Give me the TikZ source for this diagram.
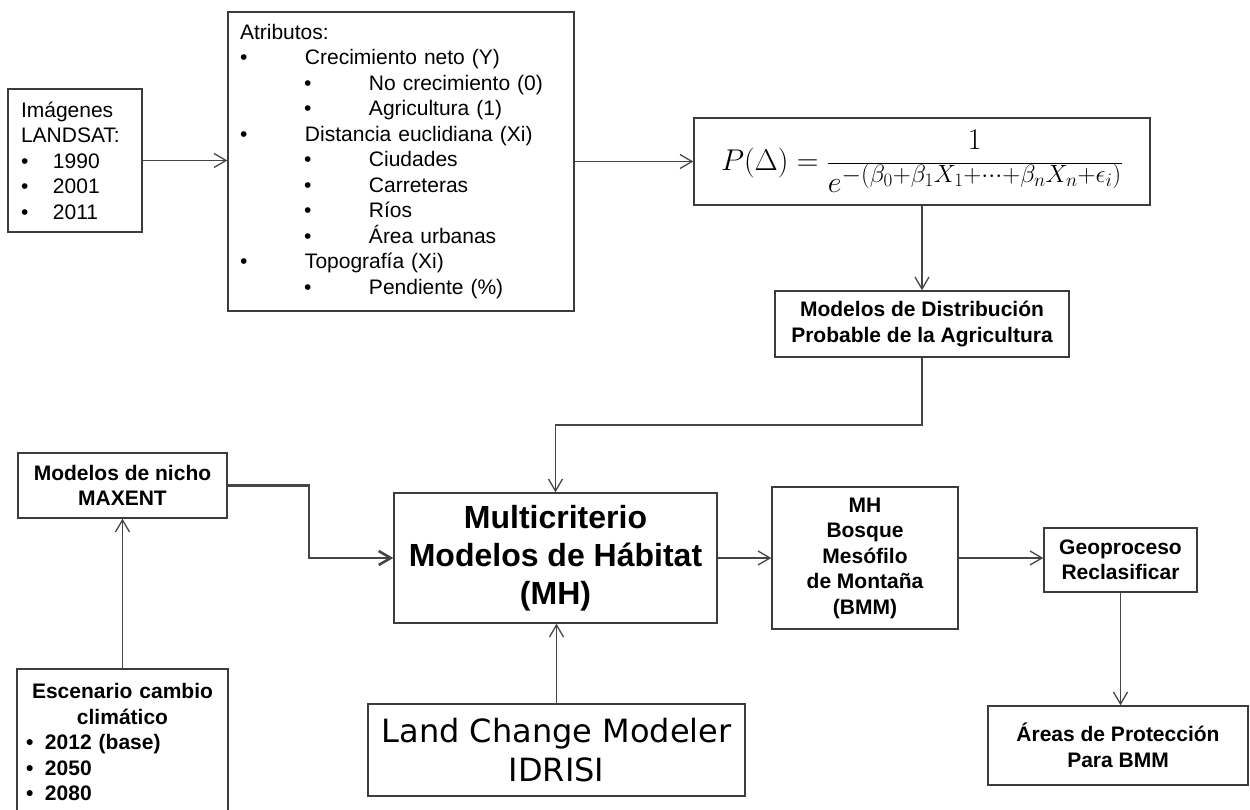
\RequirePackage{fix-cm}
\documentclass[tikz,border=0pt]{standalone}
\usepackage[no-math]{fontspec}
\setmainfont{Liberation Sans}
\newfontfamily\lcmfont{DejaVu Sans}
\usetikzlibrary{arrows.meta}

\DeclareMathSizes{30}{30}{25}{19}

\definecolor{boxline}{HTML}{3C3C3C}
\definecolor{linkline}{HTML}{454545}

\newcommand\bulletone[1]{\makebox[65pt][l]{\textbullet}#1}
\newcommand\bullettwo[1]{\hspace*{64pt}\makebox[65pt][l]{\textbullet}#1}

\tikzset{
    box/.style={draw=boxline, line width=1.4pt, inner sep=0pt, align=center,
        font=\fontsize{21}{25.5}\selectfont\bfseries},
    listbox/.style={box, align=left, font=\fontsize{21}{25.5}\selectfont},
    link/.style={draw=linkline, line width=1.3pt, -{Straight Barb[length=12pt,width=14pt]}},
    heavylink/.style={link, line width=2.6pt},
}

\begin{document}
\begin{tikzpicture}[x=1pt, y=-1pt]
        \useasboundingbox (0,0) rectangle (1250,810);
        \node (imagenes) [listbox, text width=108pt, inner xsep=13pt, minimum height=143pt] at (75,160.5)
            {Imágenes\\LANDSAT:\\\makebox[32pt][l]{\textbullet}1990\\\makebox[32pt][l]{\textbullet}2001\\\makebox[32pt][l]{\textbullet}2011};
        \node (atributos) [listbox, text width=322pt, inner xsep=12pt, minimum height=299pt] at (401,161.5)
            {Atributos:\\
             \bulletone{Crecimiento neto (Y)}\\
             \bullettwo{No crecimiento (0)}\\
             \bullettwo{Agricultura (1)}\\
             \bulletone{Distancia euclidiana (Xi)}\\
             \bullettwo{Ciudades}\\
             \bullettwo{Carreteras}\\
             \bullettwo{Ríos}\\
             \bullettwo{Área urbanas}\\
             \bulletone{Topografía (Xi)}\\
             \bullettwo{Pendiente (\%)}};
        \node (formula) [box, minimum width=456pt, minimum height=87pt, font=\fontsize{30}{34}\selectfont] at (922,161.5)
            {$\displaystyle P(\Delta)=\frac{1}{e^{-(\beta_0+\beta_1X_1+\cdots+\beta_nX_n+\epsilon_i)}}$};
        \node (distrib) [box, minimum width=294pt, minimum height=66pt] at (922,324)
            {Modelos de Distribución\\Probable de la Agricultura};
        \node (mh) [box, minimum width=323pt, minimum height=130pt, font=\fontsize{32}{38}\selectfont\bfseries] at (555.5,558)
            {Multicriterio\\Modelos de Hábitat\\(MH)};
        \node (maxent) [box, minimum width=209pt, minimum height=65pt] at (122.5,485.5)
            {Modelos de nicho\\MAXENT};
        \node (escenario) [listbox, font=\fontsize{21}{25.5}\selectfont\bfseries, text width=193pt, inner xsep=9pt, minimum height=146pt] at (122.5,742)
            {\makebox[\linewidth]{Escenario cambio}\\\makebox[\linewidth]{climático}\\
             \makebox[19pt][l]{\textbullet}2012 (base)\\\makebox[19pt][l]{\textbullet}2050\\\makebox[19pt][l]{\textbullet}2080};
        \node (lcm) [box, minimum width=377pt, minimum height=92pt, font=\fontsize{32}{39}\selectfont\lcmfont] at (556.5,750)
            {Land Change Modeler\\IDRISI};
        \node (bmm) [box, minimum width=186pt, minimum height=142pt] at (865,558)
            {MH\\Bosque\\Mesófilo\\de Montaña\\(BMM)};
        \node (geo) [box, minimum width=153pt, minimum height=64pt] at (1120.5,560)
            {Geoproceso\\Reclasificar};
        \node (areas) [box, minimum width=260pt, minimum height=79pt] at (1118,745.5)
            {Áreas de Protección\\Para BMM};
        \coordinate (join) at (555.5,425);
        \coordinate (elbow) at (309,520);
        \draw [link] (imagenes.east) -- (imagenes.east -| atributos.west);
        \draw [link] (atributos.east) -- (formula.west);
        \draw [link] (formula.south) -- (distrib.north);
        \draw [link] (distrib.south) |- (join) -- (mh.north);
        \draw [heavylink] (maxent.east) -| (elbow) |- (mh.west);
        \draw [link] (escenario.north) -- (maxent.south);
        \draw [link] (lcm.north) -- (lcm.north |- mh.south);
        \draw [link] (mh.east) -- (bmm.west);
        \draw [link] (bmm.east) -- (bmm.east -| geo.west);
        \draw [link] (geo.south) -- (geo.south |- areas.north);
\end{tikzpicture}
\end{document}
